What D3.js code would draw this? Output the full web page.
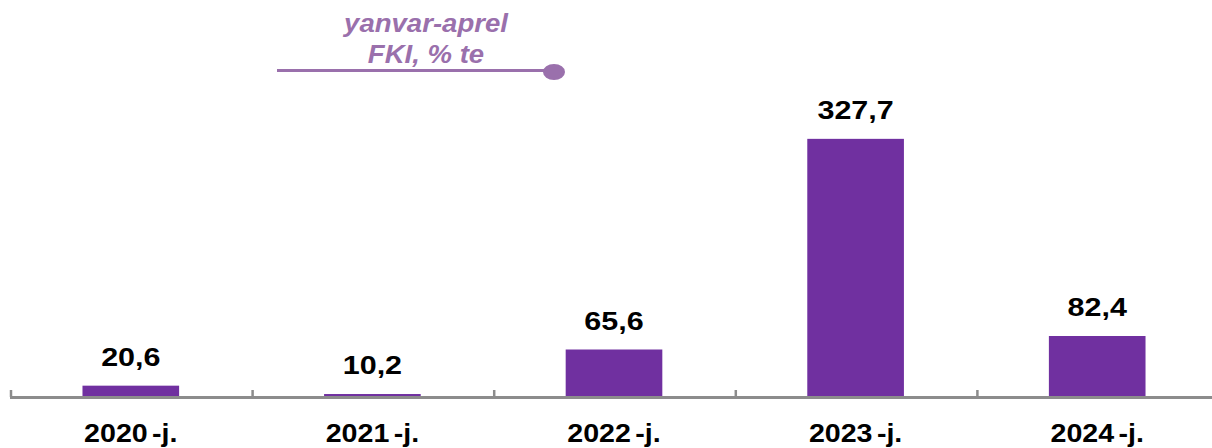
<!DOCTYPE html>
<html>
<head>
<meta charset="utf-8">
<script src="https://cdn.jsdelivr.net/npm/d3@7/dist/d3.min.js"></script>
<style>
  html, body { margin: 0; padding: 0; background: #fff; }
  svg { display: block; font-family: "Liberation Sans", Arial, sans-serif; }
</style>
</head>
<body>
<svg id="chart" width="1212" height="448"></svg>
<script>
const categories = ["2020-j.", "2021-j.", "2022-j.", "2023-j.", "2024-j."];
const values = [20.6, 10.2, 65.6, 327.7, 82.4];
const valueLabels = ["20,6", "10,2", "65,6", "327,7", "82,4"];
const titleLines = ["yanvar-aprel", "FKI, % te"];

const svg = d3.select("#chart");
const baseY = 397;

const x = d3.scaleBand().domain(categories).range([10, 1218]).paddingInner(0.6).paddingOuter(0.3);
const y = d3.scaleLinear().domain([6.5, 330]).range([baseY, 137]);

// bars
svg.selectAll("rect.bar").data(values).enter().append("rect")
  .attr("class", "bar")
  .attr("x", (d, i) => x(categories[i]))
  .attr("width", x.bandwidth())
  .attr("y", d => y(d))
  .attr("height", d => baseY - y(d))
  .attr("fill", "#7030A0");

// axis line
const step = x.step();
const axisG = svg.append("g");
axisG.append("line")
  .attr("x1", 10).attr("x2", 1212)
  .attr("y1", baseY + 0.5).attr("y2", baseY + 0.5)
  .attr("stroke", "#8c8c8c").attr("stroke-width", 3);
// ticks at band boundaries
const boundaries = categories.map((c, i) => 10 + i * step);
axisG.selectAll("line.tick").data(boundaries).enter().append("line")
  .attr("class", "tick")
  .attr("x1", d => d + 1).attr("x2", d => d + 1)
  .attr("y1", baseY - 7).attr("y2", baseY)
  .attr("stroke", "#8c8c8c").attr("stroke-width", 2.5);

// value labels
svg.selectAll("g.vlabel").data(values).enter().append("g")
  .attr("class", "vlabel")
  .attr("transform", (d, i) => `translate(${x(categories[i]) + x.bandwidth() / 2},${y(d) - 20}) scale(1.22,1)`)
  .append("text")
  .attr("text-anchor", "middle")
  .attr("font-size", 25)
  .attr("font-weight", "bold")
  .attr("fill", "#000")
  .text((d, i) => valueLabels[i]);

// category labels (small gap before the "-j." suffix, as in the reference)
const xl = svg.selectAll("g.xlabel").data(categories).enter().append("g")
  .attr("class", "xlabel")
  .attr("transform", d => `translate(${x(d) + x.bandwidth() / 2},442) scale(1.1,1)`)
  .append("text")
  .attr("text-anchor", "middle")
  .attr("font-size", 26)
  .attr("font-weight", "bold")
  .attr("fill", "#000");
xl.append("tspan").text(d => d.split("-")[0]);
xl.append("tspan").attr("dx", 4).text(d => "-" + d.split("-")[1]);

// title / legend-ish
const tcol = "#9A70AC";
svg.selectAll("g.title").data(titleLines).enter().append("g")
  .attr("class", "title")
  .attr("transform", (d, i) => `translate(426,${32 + i * 31}) scale(1.06,1)`)
  .append("text")
  .attr("text-anchor", "middle")
  .attr("font-size", 26)
  .attr("font-weight", "bold")
  .attr("font-style", "italic")
  .attr("fill", tcol)
  .text(d => d);

svg.append("line")
  .attr("x1", 277).attr("x2", 550)
  .attr("y1", 70.5).attr("y2", 70.5)
  .attr("stroke", tcol).attr("stroke-width", 3);
svg.append("ellipse")
  .attr("cx", 554).attr("cy", 72)
  .attr("rx", 11).attr("ry", 8)
  .attr("fill", tcol);
</script>
</body>
</html>
